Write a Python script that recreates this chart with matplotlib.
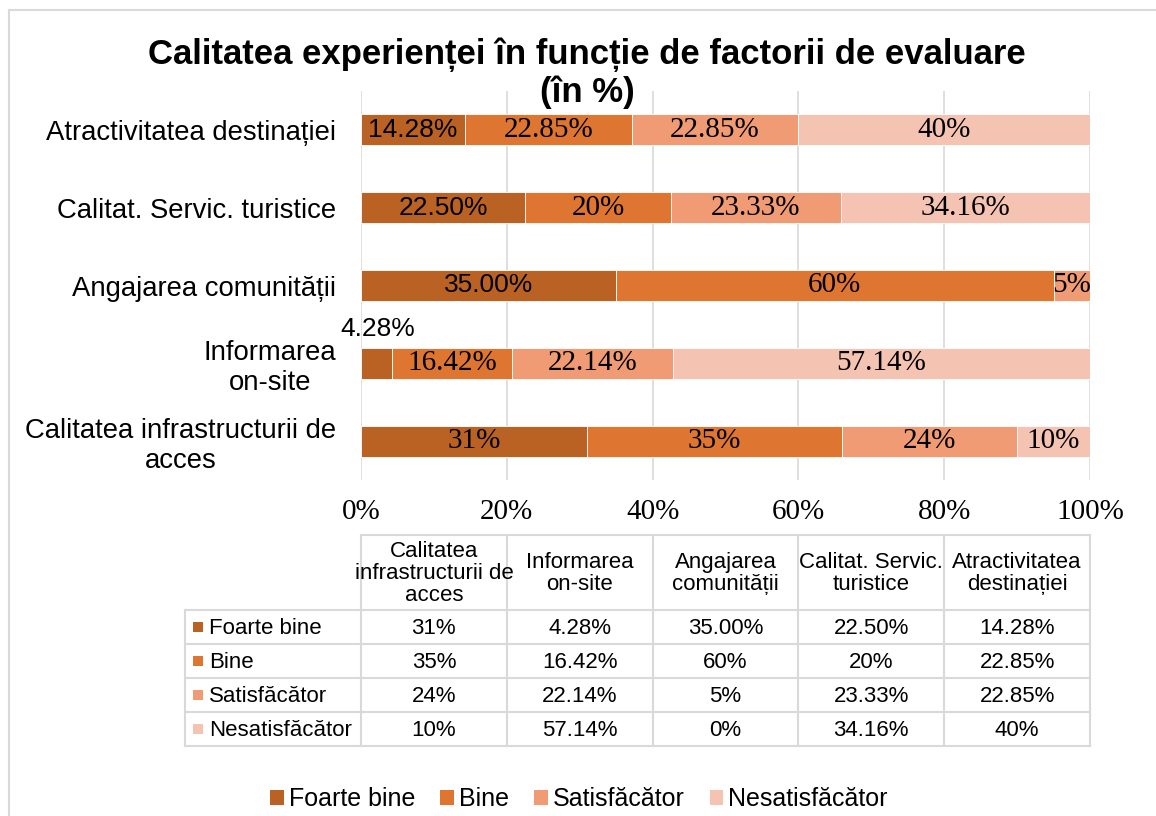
import matplotlib
matplotlib.use('Agg')
import matplotlib.pyplot as plt
from matplotlib.patches import Rectangle, Patch
import numpy as np

# data (table order = bottom-to-top in the bar chart)
categories = ["Calitatea infrastructurii de\nacces", "Informarea\non-site", "Angajarea comunității",
              "Calitat. Servic. turistice", "Atractivitatea destinației"]
table_headers = ["Calitatea\ninfrastructurii de\nacces", "Informarea\non-site", "Angajarea\ncomunității",
                 "Calitat. Servic.\nturistice", "Atractivitatea\ndestinației"]
series_names = ["Foarte bine", "Bine", "Satisfăcător", "Nesatisfăcător"]
foarte_bine = [31, 4.28, 35.00, 22.50, 14.28]
bine = [35, 16.42, 60, 20, 22.85]
satisfacator = [24, 22.14, 5, 23.33, 22.85]
nesatisfacator = [10, 57.14, 0, 34.16, 40]
labels_fb = ["31%", "4.28%", "35.00%", "22.50%", "14.28%"]
labels_b = ["35%", "16.42%", "60%", "20%", "22.85%"]
labels_s = ["24%", "22.14%", "5%", "23.33%", "22.85%"]
labels_n = ["10%", "57.14%", "0%", "34.16%", "40%"]
x_ticks = [0, 20, 40, 60, 80, 100]

colors = ["#BA6124", "#DE7530", "#F09B74", "#F5C3B2"]
grid_col = "#D9D9D9"
SANS = "Liberation Sans"
SERIF = "Liberation Serif"

W, H = 1156, 816
fig = plt.figure(figsize=(W / 100, H / 100), dpi=100)
fig.add_artist(Rectangle((9 / W, -0.1), 1.2, 1 - 10 / H + 0.1, transform=fig.transFigure,
                         fill=False, edgecolor=grid_col, lw=1.5))

ax = fig.add_axes([361 / W, 1 - 480 / H, 729 / W, 389 / H])
series = [foarte_bine, bine, satisfacator, nesatisfacator]
all_labels = [labels_fb, labels_b, labels_s, labels_n]
y = np.arange(len(categories))
left = np.zeros(len(categories))
for i, vals in enumerate(series):
    bars = ax.barh(y, vals, left=left, height=0.4, color=colors[i], edgecolor="white", linewidth=0.6, zorder=3)
    lbls = []
    for j, v in enumerate(vals):
        if v == 0:
            lbls.append("")
        elif i == 0 and v < 8:
            # too narrow, Excel put it above the bar
            ax.text(left[j] + v / 2 + 0.2, y[j] + 0.44, all_labels[i][j], ha="center", va="center",
                    fontsize=19, family=SANS)
            lbls.append("")
        else:
            lbls.append(all_labels[i][j])
    texts = ax.bar_label(bars, labels=lbls, label_type="center", fontsize=21, family=SERIF, color="black")
    if i == 0:
        for j, t in enumerate(texts):
            if lbls[j] not in ("", "31%"):
                t.set_family(SANS)
                t.set_fontsize(19)
    left += np.array(vals)

ax.set_xlim(0, 100)
ax.set_ylim(-0.5, len(categories) - 0.5)
ax.set_xticks(x_ticks)
ax.set_xticklabels([f"{v}%" for v in x_ticks], family=SERIF, fontsize=21)
ax.set_yticks(y)
ax.set_yticklabels(categories, family=SANS, fontsize=19.8, multialignment="center")
ax.tick_params(axis="both", length=0)
ax.tick_params(axis="y", pad=18)
ax.tick_params(axis="x", pad=14)
ax.xaxis.grid(True, color=grid_col, lw=1.2, zorder=0)
for s in ax.spines.values():
    s.set_visible(False)

fig.text(587 / W, 1 - 38 / H, "Calitatea experienței în funcție de factorii de evaluare\n(în %)",
         ha="center", va="top", fontsize=25, fontweight="bold", family=SANS, linespacing=1.12)

# data table under the axis
tab = fig.add_axes([185 / W, 1 - 746 / H, 905 / W, 211 / H])
lab_w = 176 / 7.29
tab.set_xlim(-lab_w, 100)
tab.set_ylim(746, 535)
tab.axis("off")
row_edges = [535, 610, 644, 678, 712, 746]
col_edges = x_ticks
lw = 1.5
for k, ye in enumerate(row_edges):
    x0 = 0 if k == 0 else -lab_w
    tab.plot([x0, 100], [ye, ye], color=grid_col, lw=lw, clip_on=False, solid_capstyle="projecting")
for xe in col_edges:
    tab.plot([xe, xe], [535, 746], color=grid_col, lw=lw, clip_on=False)
tab.plot([-lab_w, -lab_w], [610, 746], color=grid_col, lw=lw, clip_on=False)

for c, h in enumerate(table_headers):
    tab.text(col_edges[c] + 10, (row_edges[0] + row_edges[1]) / 2 + 1, h, ha="center", va="center",
             fontsize=16, family=SANS, linespacing=1.05)
for r, name in enumerate(series_names):
    yc = (row_edges[r + 1] + row_edges[r + 2]) / 2
    tab.add_patch(Rectangle((-lab_w + 1.1, yc - 5), 1.4, 10, color=colors[r], lw=0))
    tab.text(-lab_w + 3.3, yc + 1, name, ha="left", va="center", fontsize=16, family=SANS)
    for c in range(len(categories)):
        tab.text(col_edges[c] + 10, yc + 1, all_labels[r][c], ha="center", va="center", fontsize=16, family=SANS)

handles = [Patch(facecolor=c, edgecolor="none") for c in colors]
fig.legend(handles, series_names, loc="center", bbox_to_anchor=(579 / W, 1 - 799 / H), ncol=4,
           frameon=False, prop={"family": SANS, "size": 18}, handlelength=0.55, handleheight=0.55,
           handletextpad=0.2, columnspacing=1.0)

fig.savefig("out.png", dpi=100)
